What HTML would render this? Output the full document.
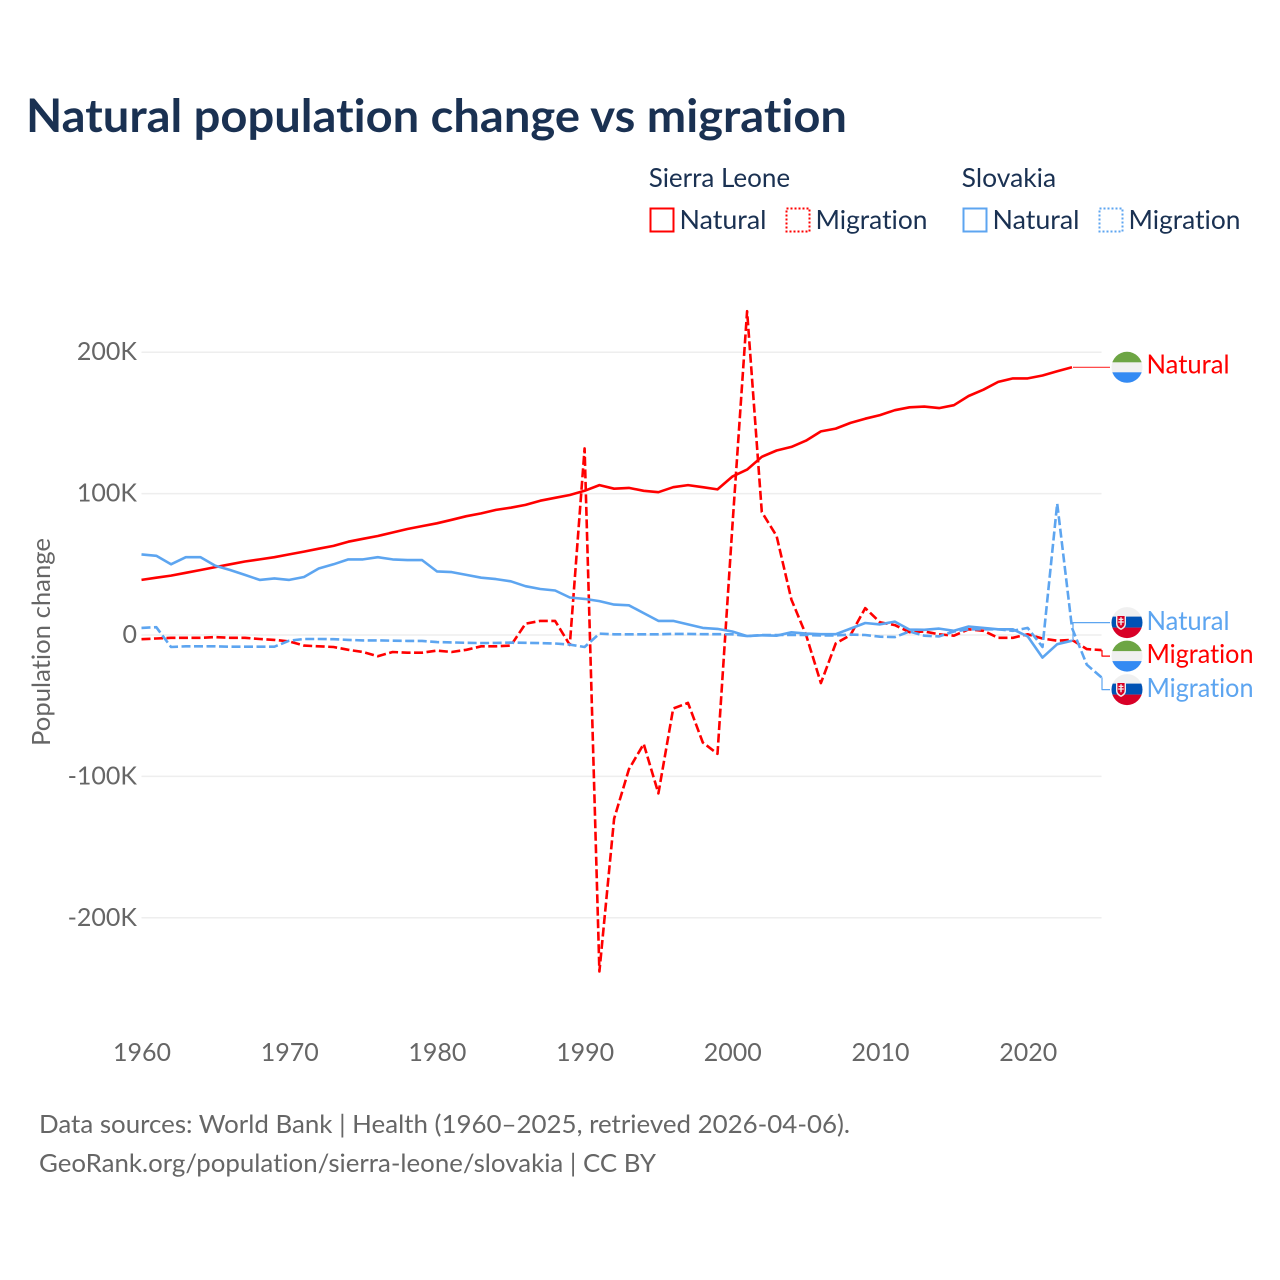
<!DOCTYPE html>
<html lang="en">
<head>
<meta charset="utf-8">
<title>Natural population change vs migration</title>
<style>
html,body{margin:0;padding:0;background:#fff;}
svg{display:block;font-family:"Lato","Carlito","Liberation Sans",sans-serif;font-variant-ligatures:none;font-feature-settings:"liga" 0,"clig" 0;}
</style>
</head>
<body>
<svg xmlns="http://www.w3.org/2000/svg" width="1280" height="1280" viewBox="0 0 1280 1280">
<defs>
<clipPath id="flag-clip"><circle cx="0" cy="0" r="15.5"/></clipPath>
<g id="flag-sl">
<g clip-path="url(#flag-clip)">
<rect x="-16" y="-16" width="32" height="32" fill="#f0f0f0"/>
<rect x="-16" y="-16" width="32" height="11" fill="#6da544"/>
<rect x="-16" y="5" width="32" height="11" fill="#338af3"/>
</g>
</g>
<g id="flag-sk">
<g clip-path="url(#flag-clip)">
<rect x="-16" y="-16" width="32" height="32" fill="#f0f0f0"/>
<rect x="-16" y="-6" width="32" height="11" fill="#0052b4"/>
<rect x="-16" y="5" width="32" height="11" fill="#d80027"/>
<path d="M-11 -8 H-1 V1 C-1 4.5 -3.5 6.2 -6 7.4 C-8.5 6.2 -11 4.5 -11 1 Z" fill="#f0f0f0"/>
<path d="M-9.6 -6.6 H-2.4 V0.8 C-2.4 3.4 -4.2 4.8 -6 5.8 C-7.8 4.8 -9.6 3.4 -9.6 0.8 Z" fill="#d80027"/>
<path d="M-6.7 -5.4 H-5.3 V-3.8 H-3.6 V-2.6 H-5.3 V-1.2 H-3.2 V0 H-5.3 V2.6 H-6.7 V0 H-8.8 V-1.2 H-6.7 V-2.6 H-8.4 V-3.8 H-6.7 Z" fill="#f0f0f0"/>
</g>
</g>
</defs>

<rect x="0" y="0" width="1280" height="1280" fill="#ffffff"/>

<text x="26" y="132" font-size="46" font-weight="700" fill="#1a3152" textLength="821" lengthAdjust="spacingAndGlyphs">Natural population change vs migration</text>

<g font-size="26" fill="#1a3152">
<text x="648.7" y="187" textLength="141.5" lengthAdjust="spacingAndGlyphs">Sierra Leone</text>
<text x="961.7" y="187" textLength="94.5" lengthAdjust="spacingAndGlyphs">Slovakia</text>
<g>
<rect x="650.5" y="208.5" width="23" height="23" fill="none" stroke="#ff0000" stroke-width="2"/>
<text x="679.5" y="229" textLength="87" lengthAdjust="spacingAndGlyphs">Natural</text>
</g>
<g>
<rect x="786.5" y="208.5" width="23" height="23" fill="none" stroke="#ff0000" stroke-width="2" stroke-dasharray="2 2"/>
<text x="815.5" y="229" textLength="112" lengthAdjust="spacingAndGlyphs">Migration</text>
</g>
<g>
<rect x="963.5" y="208.5" width="23" height="23" fill="none" stroke="#5da5f0" stroke-width="2"/>
<text x="992.5" y="229" textLength="87" lengthAdjust="spacingAndGlyphs">Natural</text>
</g>
<g>
<rect x="1099.5" y="208.5" width="23" height="23" fill="none" stroke="#5da5f0" stroke-width="2" stroke-dasharray="2 2"/>
<text x="1128.5" y="229" textLength="112" lengthAdjust="spacingAndGlyphs">Migration</text>
</g>
</g>

<g id="grid-layer"></g>
<g id="y-tick-layer" font-size="25" fill="#666666" text-anchor="end"></g>
<g id="x-tick-layer" font-size="25" fill="#666666" text-anchor="middle"></g>

<text transform="translate(50 642) rotate(-90)" font-size="25" fill="#666666" text-anchor="middle" textLength="208" lengthAdjust="spacingAndGlyphs">Population change</text>

<g fill="none" stroke-linejoin="round">
<path id="line-sl-natural" stroke="#ff0000" stroke-width="2.6"/>
<path id="line-sl-migration" stroke="#ff0000" stroke-width="2.6" stroke-dasharray="9 3.5"/>
<path id="line-sk-natural" stroke="#5da5f0" stroke-width="2.6"/>
<path id="line-sk-migration" stroke="#5da5f0" stroke-width="2.6" stroke-dasharray="9 3.5"/>
<path id="conn-sl-natural" stroke="#ff0000" stroke-width="1.2" stroke-opacity="0.8"/>
<path id="conn-sl-migration" stroke="#ff0000" stroke-width="1.2"/>
<path id="conn-sk-natural" stroke="#5da5f0" stroke-width="1.2"/>
<path id="conn-sk-migration" stroke="#5da5f0" stroke-width="1.2"/>
</g>

<g font-size="26">
<g id="end-sk-natural">
<use href="#flag-sk" x="1127" y="0"/>
<text x="1146.5" y="7.5" fill="#5da5f0" textLength="83" lengthAdjust="spacingAndGlyphs">Natural</text>
</g>
<g id="end-sl-natural">
<use href="#flag-sl" x="1127" y="0"/>
<text x="1146.5" y="6" fill="#ff0000" textLength="83" lengthAdjust="spacingAndGlyphs">Natural</text>
</g>
<g id="end-sl-migration">
<use href="#flag-sl" x="1127" y="0"/>
<text x="1146.5" y="7" fill="#ff0000" textLength="107" lengthAdjust="spacingAndGlyphs">Migration</text>
</g>
<g id="end-sk-migration">
<use href="#flag-sk" x="1127" y="0"/>
<text x="1146.5" y="7.5" fill="#5da5f0" textLength="107" lengthAdjust="spacingAndGlyphs">Migration</text>
</g>
</g>

<g font-size="25" fill="#666666">
<text x="39" y="1133" textLength="811" lengthAdjust="spacingAndGlyphs">Data sources: World Bank | Health (1960–2025, retrieved 2026-04-06).</text>
<text x="39" y="1172" textLength="617" lengthAdjust="spacingAndGlyphs">GeoRank.org/population/sierra-leone/slovakia | CC BY</text>
</g>

<script>
const startYear = 1960;
const yTickValues = [200, 100, 0, -100, -200];
const yTickLabels = ["200K", "100K", "0", "-100K", "-200K"];
const xTickYears = [1960, 1970, 1980, 1990, 2000, 2010, 2020];
const xTickLabels = ["1960", "1970", "1980", "1990", "2000", "2010", "2020"];

const sierraLeoneNatural = [39, 40.5, 42, 44, 46, 48, 50, 52, 53.5, 55, 57, 59, 61, 63, 66, 68, 70, 72.5, 75, 77, 79, 81.5, 84, 86, 88.5, 90, 92, 95, 97, 99, 102, 106, 103.5, 104, 102, 101, 104.5, 106, 104.5, 103, 112, 117, 126, 130.5, 133, 137.5, 144, 146, 150, 153, 155.5, 159, 161, 161.5, 160.5, 162.5, 169, 173.5, 179, 181.5, 181.5, 183.5, 186.5, 189.3];
const sierraLeoneMigration = [-3, -2.5, -2, -2, -2, -1.5, -2, -2, -2.8, -3.5, -4.5, -7.5, -8, -8.5, -10.5, -12, -15, -12, -12.5, -12.5, -11, -12, -10.5, -8, -8, -7.5, 8, 10, 10, -7, 132, -238, -130, -95, -77, -112, -52, -48, -76, -84, 76, 229, 87, 70, 25, 0, -34, -6, 0, 19, 9, 7, 2, 2.5, 0.5, -0.5, 4, 3, -2, -2, 0.5, -2.5, -4, -3.5, -10, -10.7];
const slovakiaNatural = [57, 56, 50, 55, 55, 49, 46, 42.5, 39, 40, 39, 41, 47, 50, 53.5, 53.5, 55, 53.5, 53, 53, 45, 44.5, 42.5, 40.5, 39.5, 38, 34.5, 32.5, 31.5, 26.5, 25.5, 24, 21.5, 21, 15.5, 10, 10, 7.5, 5, 4.3, 2.5, -0.8, -0.2, -0.5, 1.9, 1, 0.6, 0.6, 4.5, 8.5, 7.5, 9.5, 3.8, 3.7, 4.5, 3, 6, 5, 4, 4, -1, -16, -6.5, -4];
const slovakiaMigration = [5, 5.5, -8.5, -8, -8, -8, -8.3, -8.3, -8.3, -8.3, -4, -2.8, -2.8, -3, -3.5, -3.8, -3.8, -4, -4.2, -4.2, -5, -5.2, -5.5, -5.7, -5.6, -5.4, -5.5, -5.7, -6, -6.8, -8.5, 1, 0.5, 0.5, 0.5, 0.5, 0.8, 0.8, 0.6, 0.6, 0.5, -0.8, 0, 0, 0, 0, -0.3, -0.3, 0.3, 0, -1.2, -1.5, 2.5, -0.5, -1, 2.5, 4, 4, 4, 3, 5, -8.5, 93, 5, -21, -30];

const SVG_NS = "http://www.w3.org/2000/svg";
function xScale(year) { return 141.5 + (year - 1960) * 14.77; }
function yScale(value) { return 635 - value * 1.414; }

function linePath(values) {
  return values.map(function (v, i) {
    return (i ? "L" : "M") + xScale(startYear + i).toFixed(1) + " " + yScale(v).toFixed(1);
  }).join(" ");
}

const gridLayer = document.getElementById("grid-layer");
const yTickLayer = document.getElementById("y-tick-layer");
const xTickLayer = document.getElementById("x-tick-layer");

yTickValues.forEach(function (v, i) {
  const line = document.createElementNS(SVG_NS, "line");
  
  
  line.setAttribute("x1", xScale(1960));
  line.setAttribute("x2", xScale(2025));
  line.setAttribute("y1", yScale(v));
  line.setAttribute("y2", yScale(v));
  line.setAttribute("stroke", "#eeeeee");
  line.setAttribute("stroke-width", "1.5");
  gridLayer.appendChild(line);

  const label = document.createElementNS(SVG_NS, "text");
  
  
  label.setAttribute("x", 137);
  label.setAttribute("y", yScale(v) + 8);
  label.textContent = yTickLabels[i];
  yTickLayer.appendChild(label);
});

xTickYears.forEach(function (year, i) {
  const label = document.createElementNS(SVG_NS, "text");
  
  
  label.setAttribute("x", xScale(year) + 0.5);
  label.setAttribute("y", 1061);
  label.textContent = xTickLabels[i];
  xTickLayer.appendChild(label);
});

const seriesList = [
  { key: "sl-natural", values: sierraLeoneNatural },
  { key: "sl-migration", values: sierraLeoneMigration },
  { key: "sk-natural", values: slovakiaNatural },
  { key: "sk-migration", values: slovakiaMigration }
];

seriesList.forEach(function (s) {
  document.getElementById("line-" + s.key).setAttribute("d", linePath(s.values));
  s.endX = xScale(startYear + s.values.length - 1);
  s.endY = yScale(s.values[s.values.length - 1]);
});

/* End labels: sort by end position, then spread overlapping ones around their mean. */
function layoutLabels(items, gap) {
  const sorted = items.slice().sort(function (a, b) { return a.endY - b.endY; });
  let clusters = sorted.map(function (s) { return { members: [s], center: s.endY }; });
  let merged = true;
  while (merged) {
    merged = false;
    for (let i = 0; i < clusters.length - 1; i++) {
      const a = clusters[i];
      const b = clusters[i + 1];
      const aBottom = a.center + (a.members.length - 1) * gap / 2;
      const bTop = b.center - (b.members.length - 1) * gap / 2;
      if (bTop - aBottom < gap) {
        const all = a.members.concat(b.members);
        const mean = all.reduce(function (t, m) { return t + m.endY; }, 0) / all.length;
        clusters.splice(i, 2, { members: all, center: mean });
        merged = true;
        break;
      }
    }
  }
  clusters.forEach(function (c) {
    c.members.forEach(function (m, i) {
      m.labelY = c.center + (i - (c.members.length - 1) / 2) * gap;
    });
  });
}
layoutLabels(seriesList, 33.5);

seriesList.forEach(function (s) {
  const elbowX = Math.max(s.endX, 1102);
  const firstX = s.endX < 1090 ? s.endX + 1 : elbowX;
  document.getElementById("conn-" + s.key).setAttribute("d",
    "M" + firstX.toFixed(1) + " " + s.endY.toFixed(1) +
    " L" + firstX.toFixed(1) + " " + s.labelY.toFixed(1) +
    " L1110 " + s.labelY.toFixed(1));
  document.getElementById("end-" + s.key).setAttribute("transform", "translate(0 " + s.labelY.toFixed(1) + ")");
});
</script>
</svg>
</body>
</html>
